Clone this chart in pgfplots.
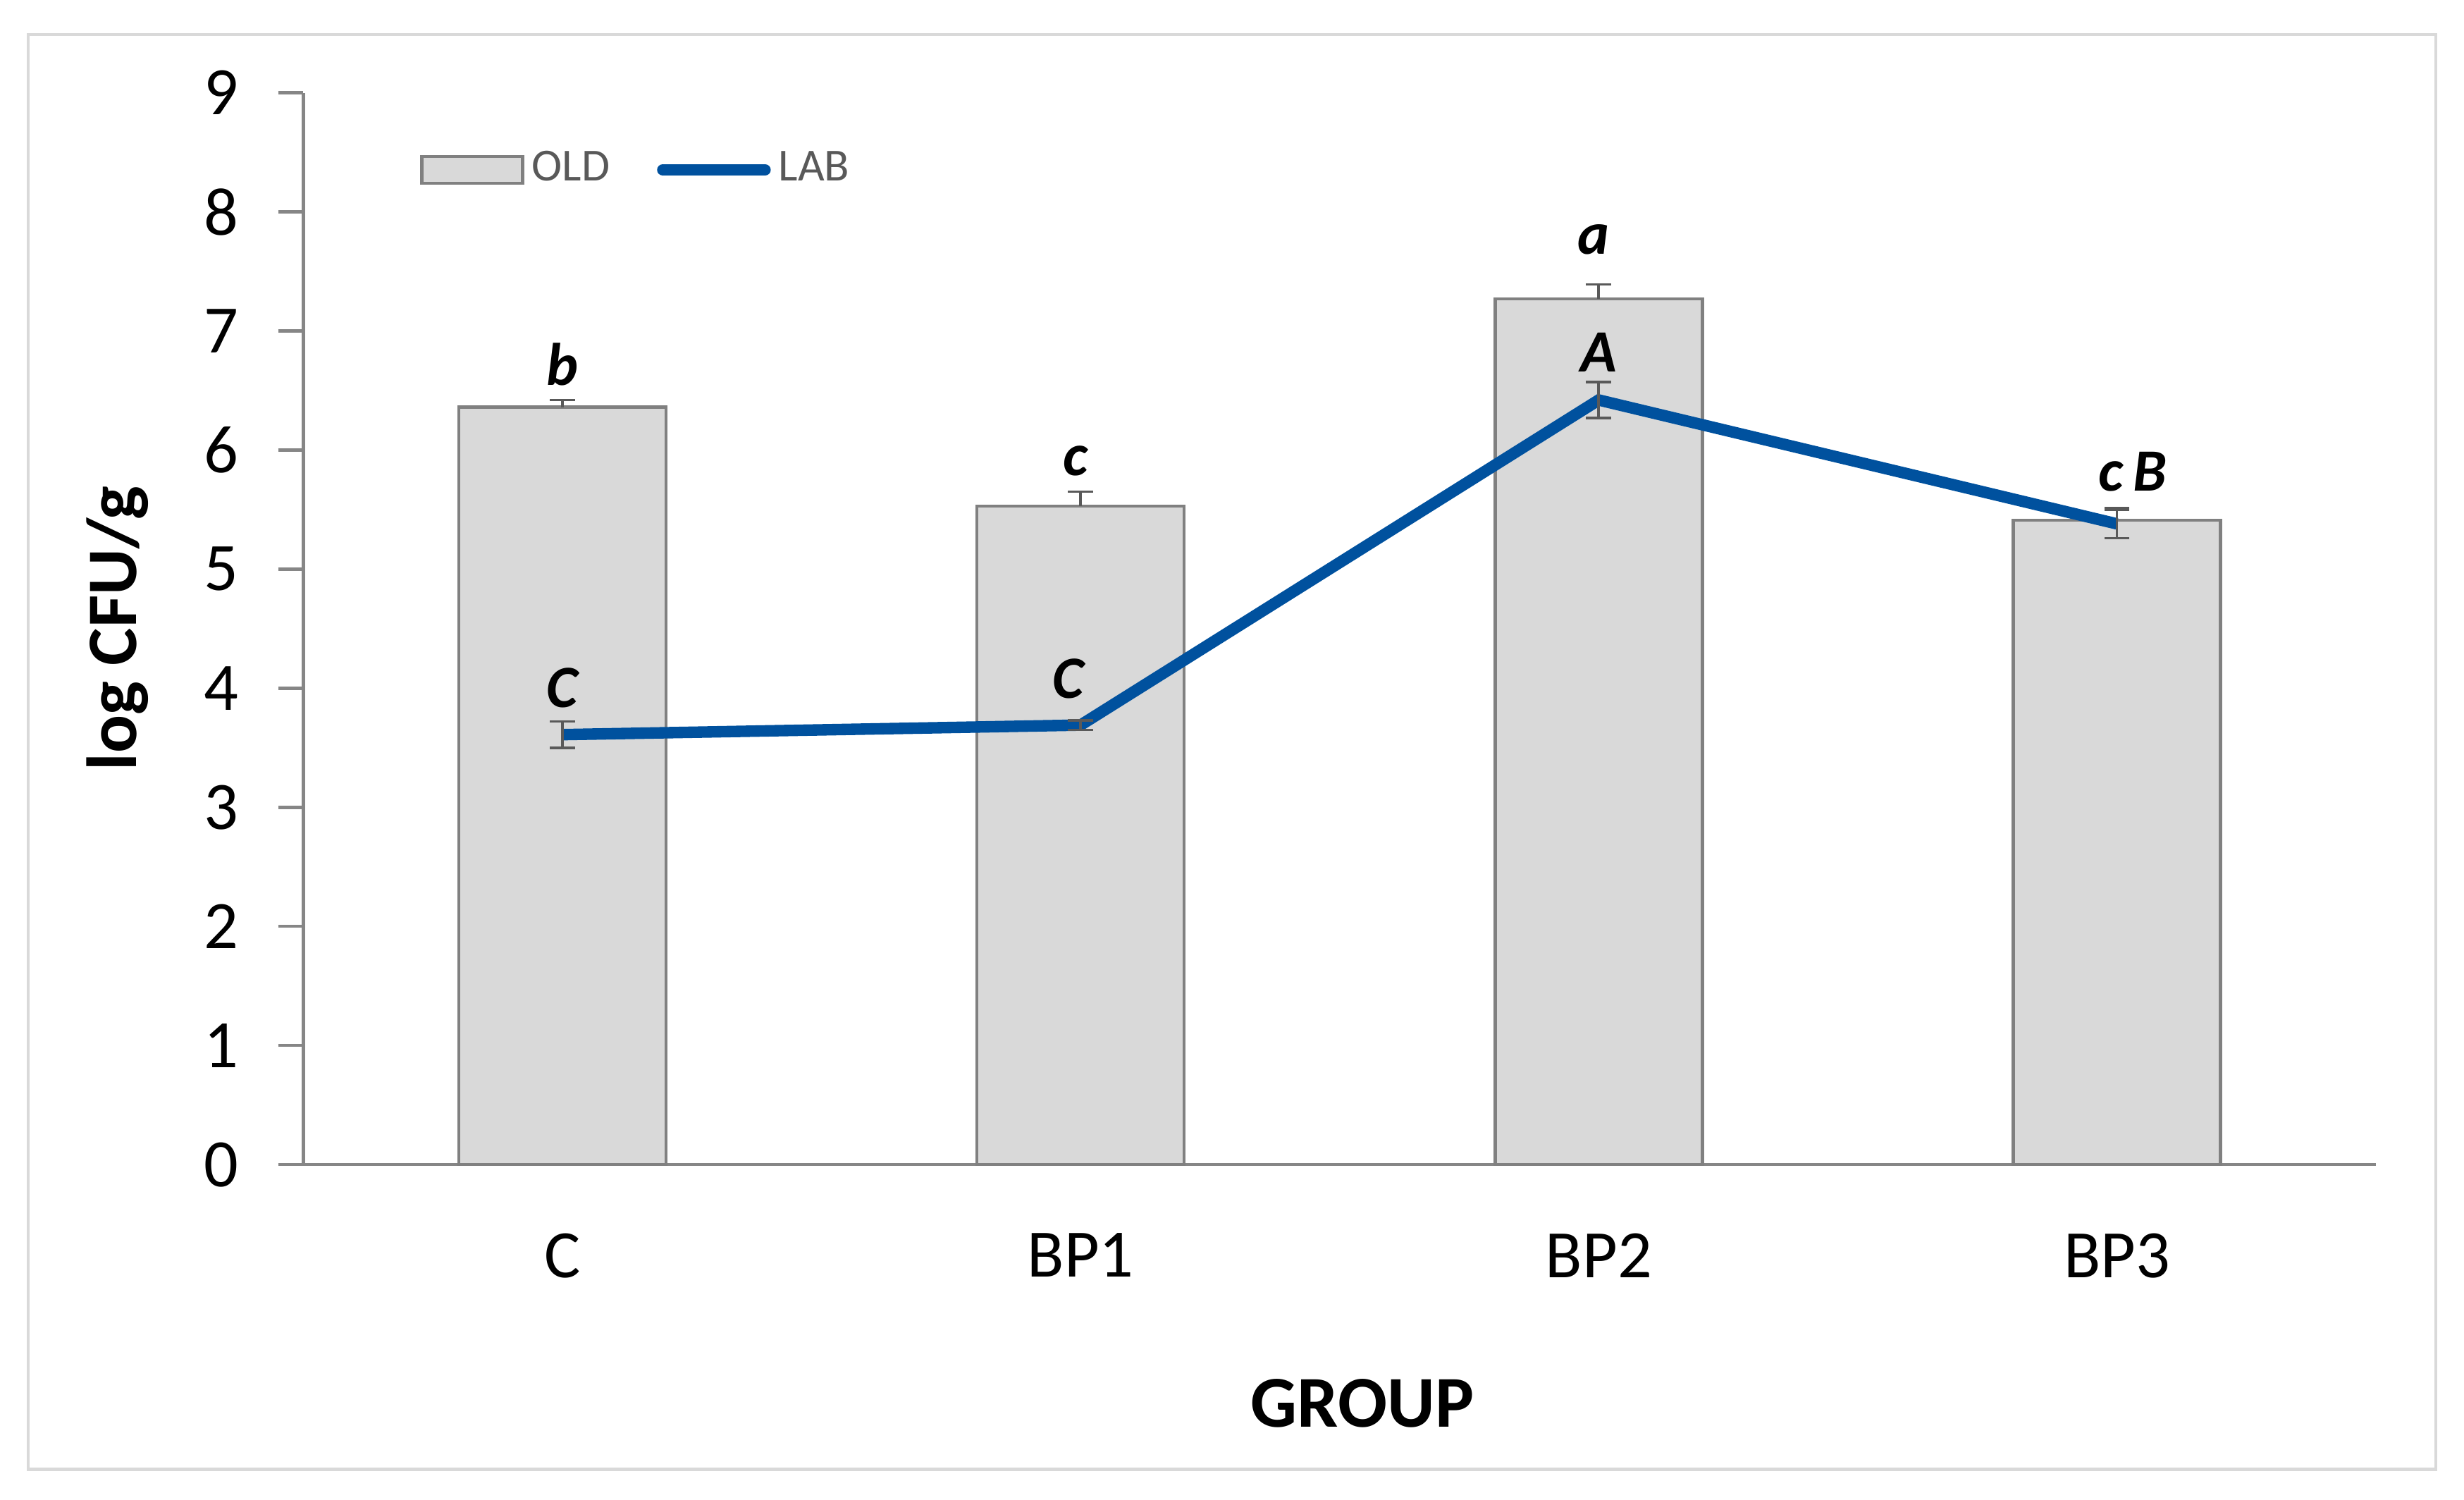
\documentclass[border=0pt]{standalone}
\usepackage{pgfplots}
\pgfplotsset{compat=1.18}
\usepackage{fontspec}
\setmainfont{Carlito}
\definecolor{barfill}{HTML}{D9D9D9}
\definecolor{baredge}{HTML}{808080}
\definecolor{axgray}{HTML}{868686}
\definecolor{labblue}{HTML}{00519E}
\definecolor{errgray}{HTML}{595959}
\definecolor{legtext}{HTML}{595959}
\definecolor{framegray}{HTML}{D9D9D9}
\begin{document}
\begin{tikzpicture}
\path[use as bounding box] (-57.9bp,-63.9bp) rectangle (412.5bp,222.3bp);
\draw[framegray, line width=0.6bp] (-52.5bp,-58.2bp) rectangle (407.1bp,215.7bp);
\begin{axis}[
  scale only axis,
  width=395.7bp, height=204.6bp,
  xmin=-0.5, xmax=3.5, ymin=0, ymax=9,
  axis lines*=left,
  axis line style={axgray, line width=0.6bp},
  xtick=data,
  xticklabels={C,BP1,BP2,BP3},
  xtick style={draw=none},
  ytick={0,1,...,9},
  ytick style={axgray, line width=0.6bp},
  tick align=outside,
  major tick length=4.8bp,
  /pgf/number format/assume math mode=true,
  tick label style={font=\fontsize{13}{15}\selectfont, text=black},
  xticklabel style={yshift=-4.8bp},
  yticklabel style={xshift=-4bp},
  xlabel={\textbf{GROUP}},
  xlabel style={font=\fontsize{14}{17}\selectfont, at={(axis description cs:0.511,0)}, anchor=center, yshift=-45.6bp},
  ylabel={\textbf{log CFU/g}},
  ylabel style={font=\fontsize{13.6}{16}\selectfont, at={(axis description cs:-0.0895,0.5)}, anchor=center},
  legend columns=2,
  legend style={draw=none, fill=none, at={(0.056,0.928)}, anchor=west, font=\fontsize{8.8}{10}\selectfont\color{legtext}, /tikz/every even column/.append style={column sep=7.5bp}, inner sep=0pt,
    nodes={inner sep=1.5bp}},
  legend cell align=left,
  clip=false,
]
\addplot[ybar, bar width=0.4, bar shift=0pt, fill=barfill, draw=baredge, line width=0.6bp,
  legend image code/.code={\draw[fill=barfill, draw=baredge, line width=0.6bp] (0bp,-2.55bp) rectangle (19.2bp,2.55bp);},
  error bars/.cd, y dir=plus, y explicit, error mark=-, error bar style={errgray, line width=0.5bp},
  error mark options={errgray, line width=0.5bp, mark size=2.4bp, rotate=90}]
  coordinates {(0,6.36) +- (0,0.06) (1,5.53) +- (0,0.12) (2,7.27) +- (0,0.12) (3,5.41) +- (0,0.10)};
\addlegendentry{OLD}
\addplot[labblue, line width=2.2bp, mark=none,
  legend image code/.code={\draw[labblue, line width=2.2bp, line cap=round] (0bp,0bp) -- (19.5bp,0bp);},
  error bars/.cd, y dir=both, y explicit, error mark=-, error bar style={errgray, line width=0.5bp},
  error mark options={errgray, line width=0.5bp, mark size=2.4bp, rotate=90}]
  coordinates {(0,3.61) +- (0,0.11) (1,3.69) +- (0,0.04) (2,6.42) +- (0,0.15) (3,5.38) +- (0,0.12)};
\addlegendentry{LAB}
\tikzset{lbl/.style={font=\fontsize{11.5}{13}\selectfont\bfseries\itshape, text=black, inner sep=0pt}}
\node[lbl] at (axis cs:0,6.72) {b};
\node[lbl] at (axis cs:0.99,5.91) {c};
\node[lbl] at (axis cs:1.99,7.77) {a};
\node[lbl] at (axis cs:2,6.82) {A};
\node[lbl] at (axis cs:3.03,5.82) {c\,B};
\node[lbl] at (axis cs:0,4.0) {C};
\node[lbl] at (axis cs:0.976,4.08) {C};
\end{axis}
\end{tikzpicture}
\end{document}
